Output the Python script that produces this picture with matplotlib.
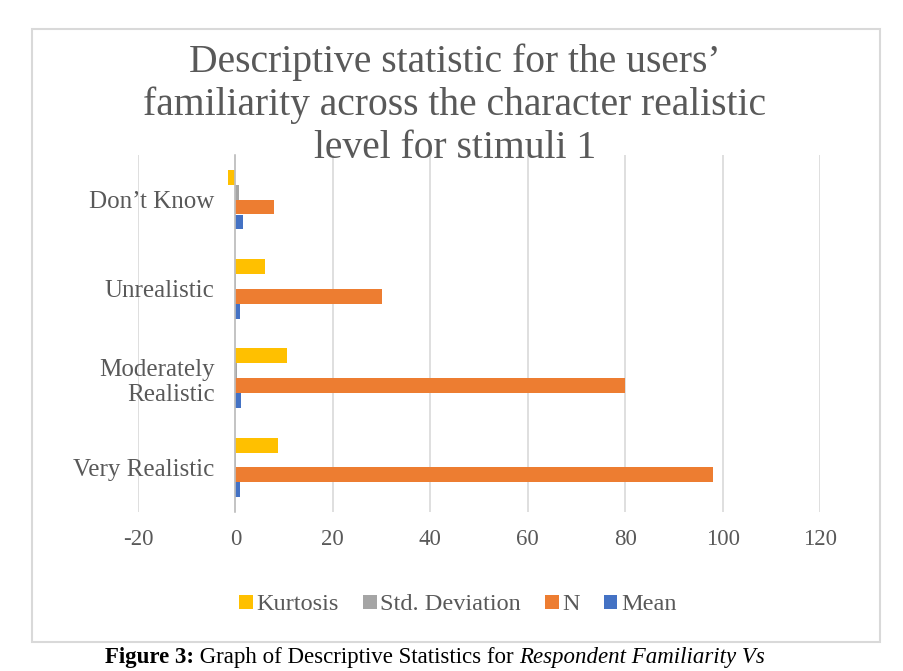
import matplotlib
matplotlib.use("Agg")
import matplotlib.pyplot as plt
from matplotlib.patches import Rectangle

plt.rcParams['font.family'] = ['Liberation Serif', 'DejaVu Serif']

# data
categories = ["Very Realistic", "Moderately\nRealistic", "Unrealistic", "Don\u2019t Know"]
mean_vals = [1.0, 1.1, 1.0, 1.6]
n_vals = [98, 80, 30, 8]
std_vals = [0.2, 0.3, 0.2, 0.7]
kurt_vals = [8.8, 10.5, 6.1, -1.6]
series_names = ["Mean", "N", "Std. Deviation", "Kurtosis"]
xticks = [-20, 0, 20, 40, 60, 80, 100, 120]

title = "Descriptive statistic for the users\u2019\nfamiliarity across the character realistic\nlevel for stimuli 1"

colors = ["#4472C4", "#ED7D31", "#A5A5A5", "#FFC000"]
text_col = "#595959"
grid_col = "#D9D9D9"

fig = plt.figure(figsize=(9.04, 6.71), dpi=100)
W, H = 904, 671

# chart border
fig.patches.append(Rectangle((32 / W, 1 - 642 / H), 848 / W, 613 / H,
                             transform=fig.transFigure, fill=False,
                             edgecolor=grid_col, lw=1.5))

ax = fig.add_axes([138 / W, 1 - 512 / H, 682 / W, 357 / H])

bar_h = 1 / 6
offsets = [-0.25, -0.0833, 0.0833, 0.25]
all_series = [mean_vals, n_vals, std_vals, kurt_vals]
ypos = list(range(len(categories)))
bars = []
for vals, off, col, name in zip(all_series, offsets, colors, series_names):
    b = ax.barh([y + off for y in ypos], vals, height=bar_h, color=col,
                label=name, zorder=3)
    bars.append(b)

ax.set_xlim(-20, 120)
ax.set_ylim(-0.5, len(categories) - 0.5)
ax.set_xticks(xticks)
ax.set_xticklabels([str(t) for t in xticks])
ax.set_yticks(ypos)
ax.set_yticklabels(categories, ha='right', multialignment='center')

ax.xaxis.grid(True, color=grid_col, lw=1.2, zorder=0)
ax.yaxis.grid(False)
for s in ['top', 'right', 'bottom']:
    ax.spines[s].set_visible(False)
ax.spines['left'].set_position(('data', 0))
ax.spines['left'].set_color("#BFBFBF")
ax.spines['left'].set_linewidth(1.2)
ax.spines['left'].set_zorder(4)
ax.tick_params(axis='x', length=0, pad=12, labelsize=16.5, labelcolor=text_col)
ax.tick_params(axis='y', length=0, pad=15, labelsize=18, labelcolor=text_col)

# title, one line per text
for i, line in enumerate(title.split("\n")):
    fig.text(455 / W, 1 - (62 + 43 * i) / H, line, ha='center', va='center',
             fontsize=28.5, color=text_col)

# legend (reverse order like the original)
handles = bars[::-1]
labels = series_names[::-1]
fig.legend(handles, labels, loc='center', bbox_to_anchor=(458 / W, 1 - 605 / H),
           ncol=4, frameon=False, fontsize=17.5, handlelength=0.55,
           handleheight=0.55, handletextpad=0.15, columnspacing=1.0,
           labelcolor=text_col)

# caption below the chart
fig.canvas.draw()
renderer = fig.canvas.get_renderer()
x = 105 / W
cap_y = 1 - 657 / H
parts = [("Figure 3:", 'bold', 'normal'),
         (" Graph of Descriptive Statistics for ", 'normal', 'normal'),
         ("Respondent Familiarity Vs", 'normal', 'italic')]
for txt, fw, fs in parts:
    t = fig.text(x, cap_y, txt, ha='left', va='center', fontsize=16.5,
                 fontweight=fw, fontstyle=fs, color='black')
    bb = t.get_window_extent(renderer)
    x = bb.x1 / W

fig.savefig("out.png", dpi=100)
